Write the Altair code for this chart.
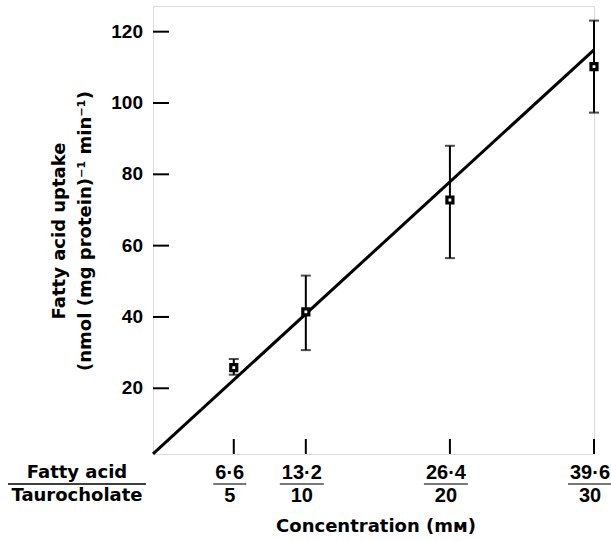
import altair as alt
import pandas as pd

# ---- data ----
conc_fa = [6.6, 13.2, 26.4, 39.6]          # fatty acid concentration (mM)
fa_labels = ["6·6", "13·2", "26·4", "39·6"]
tc_labels = ["5", "10", "20", "30"]       # taurocholate concentration (mM)
uptake = [25.8, 41.4, 72.8, 110.2]
err_low = [23.8, 30.7, 56.5, 97.3]
err_high = [28.2, 51.6, 88.0, 123.1]
fit_x = [-0.8, 39.6]
fit_y = [1.6, 114.9]
y_ticks = [20, 40, 60, 80, 100, 120]
x_domain = [-0.8, 39.6]
y_domain = [1.57, 127.2]

W, H = 441, 448
FONT = "Liberation Sans"
TFONT = "DejaVu Sans"

pts = pd.DataFrame({"x": conc_fa, "y": uptake, "lo": err_low, "hi": err_high,
                    "fa": fa_labels, "tc": tc_labels})
pts["barw"] = [11 * len(s) for s in fa_labels]
fit = pd.DataFrame({"x": fit_x, "y": fit_y})
yt = pd.DataFrame({"v": y_ticks, "lab": [str(v) for v in y_ticks]})

xs = alt.Scale(domain=x_domain, nice=False, zero=False)
ys = alt.Scale(domain=y_domain, nice=False, zero=False)

line = alt.Chart(fit).mark_line(color="black", strokeWidth=3).encode(
    x=alt.X("x:Q", scale=xs,
            axis=alt.Axis(labels=False, ticks=False, grid=False, title=None,
                          domainColor="black", domainWidth=2.5)),
    y=alt.Y("y:Q", scale=ys,
            axis=alt.Axis(labels=False, ticks=False, grid=False, title=None,
                          domainColor="black", domainWidth=2.5)),
)

ytick_marks = alt.Chart(yt).mark_rule(color="black", strokeWidth=2).encode(
    y=alt.Y("v:Q", scale=ys, axis=None), x=alt.value(0), x2=alt.value(16))
ytick_labels = alt.Chart(yt).mark_text(font=FONT, fontSize=19, fontWeight="bold", color="black",
                                       align="right", baseline="middle").encode(
    y=alt.Y("v:Q", scale=ys, axis=None), x=alt.value(-10), text="lab:N")

xtick_marks = alt.Chart(pts).mark_rule(color="black", strokeWidth=2).encode(
    x=alt.X("x:Q", scale=xs, axis=None), y=alt.value(H), y2=alt.value(H - 15))

bars = alt.Chart(pts).mark_rule(color="black", strokeWidth=2).encode(
    x=alt.X("x:Q", scale=xs, axis=None),
    y=alt.Y("lo:Q", scale=ys, axis=None), y2="hi:Q")
cap_lo = alt.Chart(pts).mark_tick(color="black", orient="horizontal", size=10, thickness=2).encode(
    x=alt.X("x:Q", scale=xs, axis=None), y=alt.Y("lo:Q", scale=ys, axis=None))
cap_hi = alt.Chart(pts).mark_tick(color="black", orient="horizontal", size=10, thickness=2).encode(
    x=alt.X("x:Q", scale=xs, axis=None), y=alt.Y("hi:Q", scale=ys, axis=None))
squares = alt.Chart(pts).mark_point(shape="square", filled=False, fill="white", fillOpacity=1,
                                    stroke="black", strokeWidth=3.2, size=36, opacity=1).encode(
    x=alt.X("x:Q", scale=xs, axis=None), y=alt.Y("y:Q", scale=ys, axis=None))

lab_top = alt.Chart(pts).mark_text(font=FONT, fontSize=20, fontWeight="bold", color="black",
                                   baseline="middle", dx=-4).encode(
    x=alt.X("x:Q", scale=xs, axis=None), y=alt.value(467), text="fa:N")
lab_bot = alt.Chart(pts).mark_text(font=FONT, fontSize=20, fontWeight="bold", color="black",
                                   baseline="middle", dx=-4).encode(
    x=alt.X("x:Q", scale=xs, axis=None), y=alt.value(490), text="tc:N")
lab_bar = alt.Chart(pts).mark_tick(color="black", orient="horizontal", thickness=1.6, xOffset=-4).encode(
    x=alt.X("x:Q", scale=xs, axis=None), y=alt.value(478),
    size=alt.Size("barw:Q", scale=None, legend=None))


def txt(s, x, y, angle=0, size=18):
    return alt.Chart(pd.DataFrame({"t": [s]})).mark_text(
        font=TFONT, fontSize=size, fontWeight="bold", color="black",
        baseline="middle", align="center", angle=angle).encode(
        text="t:N", x=alt.value(x), y=alt.value(y))


left_bar = alt.Chart(pd.DataFrame({"a": [0]})).mark_rule(color="black", strokeWidth=1.6).encode(
    x=alt.value(-145), x2=alt.value(-7), y=alt.value(478))

chart = alt.layer(
    line, ytick_marks, ytick_labels, xtick_marks, bars, cap_lo, cap_hi, squares,
    lab_top, lab_bot, lab_bar,
    txt("Fatty acid", -76, 467), txt("Taurocholate", -76, 490), left_bar,
    txt("Concentration (mᴍ)", 223, 521),
    txt("Fatty acid uptake", -93, 225, angle=270),
    txt("(nmol (mg protein)⁻¹ min⁻¹)", -67, 225, angle=270),
).properties(
    width=W, height=H,
    autosize=alt.AutoSizeParams(type="none"),
    padding={"left": 153, "top": 6, "right": 17, "bottom": 87},
).configure_view(stroke=None).configure(background="white")

chart.save("out.html", embed_options={"renderer": "svg", "actions": False})
